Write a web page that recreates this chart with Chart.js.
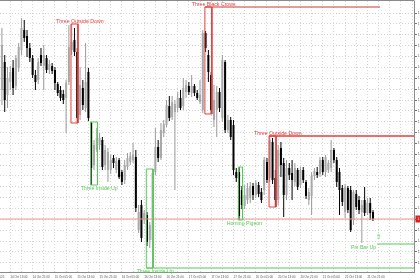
<!DOCTYPE html>
<html><head><meta charset="utf-8">
<script src="https://cdn.jsdelivr.net/npm/chart.js@4.4.1/dist/chart.umd.min.js"></script>
<style>html,body{margin:0;padding:0;background:#fff;overflow:hidden}canvas{display:block}</style>
</head><body>
<canvas id="c" width="420" height="280"></canvas>
<script>
// ---- Hourly candles, 14 Oct 10:00 .. 21 Oct 23:00 ----
const opens = [
1.1710,1.1738,1.1705,1.1718,1.1732,1.1714,1.1732,1.1750,1.1770,1.1764,
1.1752,1.1742,1.1725,1.1720,1.1745,1.1734,1.1742,1.1730,1.1734,1.1730,
1.1716,1.1710,1.1706,1.1702,1.1718,1.1750,1.1760,1.1748,1.1685,1.1712,
1.1692,1.1728,1.1677,1.1635,1.1650,1.1655,1.1660,1.1635,1.1630,1.1630,
1.1642,1.1630,1.1640,1.1628,1.1620,1.1633,1.1638,1.1640,1.1643,1.1570,
1.1595,1.1580,1.1585,1.1560,1.1560,1.1628,1.1653,1.1642,1.1667,1.1675,
1.1694,1.1683,1.1688,1.1692,1.1702,1.1694,1.1708,1.1714,1.1707,1.1714,
1.1707,1.1698,1.1690,1.1767,1.1745,1.1725,1.1680,1.1690,1.1708,1.1682,
1.1738,1.1670,1.1680,1.1675,1.1628,1.1628,1.1610,1.1594,1.1600,1.1602,
1.1614,1.1605,1.1615,1.1608,1.1610,1.1638,1.1622,1.1658,1.1622,1.1600,
1.1652,1.1637,1.1605,1.1632,1.1627,1.1618,1.1630,1.1615,1.1630,1.1618,
1.1600,1.1604,1.1624,1.1628,1.1626,1.1640,1.1628,1.1630,1.1632,1.1650,
1.1640,1.1628,1.1612,1.1588,1.1612,1.1610,1.1580,1.1606,1.1600,1.1588,
1.1600,1.1587,1.1597,1.1588];
const highs = [
1.1772,1.1745,1.1733,1.1734,1.1740,1.1745,1.1757,1.1782,1.1780,1.1770,
1.1757,1.1745,1.1730,1.1742,1.1752,1.1755,1.1745,1.1740,1.1737,1.1733,
1.1718,1.1714,1.1710,1.1720,1.1775,1.1776,1.1772,1.1752,1.1733,1.1720,
1.1757,1.1732,1.1678,1.1660,1.1672,1.1667,1.1663,1.1655,1.1652,1.1645,
1.1645,1.1643,1.1642,1.1630,1.1640,1.1647,1.1648,1.1657,1.1650,1.1595,
1.1600,1.1590,1.1588,1.1578,1.1631,1.1672,1.1660,1.1677,1.1680,1.1700,
1.1704,1.1704,1.1700,1.1708,1.1710,1.1722,1.1720,1.1718,1.1725,1.1716,
1.1710,1.1720,1.1770,1.1769,1.1750,1.1728,1.1715,1.1714,1.1712,1.1745,
1.1740,1.1685,1.1683,1.1680,1.1632,1.1633,1.1614,1.1615,1.1617,1.1618,
1.1617,1.1620,1.1618,1.1612,1.1643,1.1642,1.1664,1.1662,1.1630,1.1655,
1.1658,1.1642,1.1640,1.1637,1.1640,1.1637,1.1632,1.1633,1.1633,1.1620,
1.1612,1.1628,1.1632,1.1633,1.1643,1.1643,1.1645,1.1640,1.1660,1.1652,
1.1643,1.1632,1.1615,1.1616,1.1614,1.1614,1.1610,1.1610,1.1604,1.1600,
1.1613,1.1602,1.1602,1.1590];
const lows = [
1.1695,1.1688,1.1692,1.1710,1.1705,1.1710,1.1728,1.1745,1.1758,1.1743,
1.1738,1.1722,1.1710,1.1716,1.1734,1.1710,1.1727,1.1726,1.1726,1.1710,
1.1704,1.1699,1.1696,1.1667,1.1715,1.1745,1.1744,1.1677,1.1680,1.1690,
1.1688,1.1679,1.1615,1.1630,1.1648,1.1650,1.1630,1.1630,1.1618,1.1626,
1.1632,1.1627,1.1621,1.1615,1.1616,1.1630,1.1635,1.1637,1.1588,1.1567,
1.1558,1.1576,1.1554,1.1552,1.1532,1.1625,1.1638,1.1640,1.1663,1.1673,
1.1679,1.1680,1.1610,1.1688,1.1690,1.1690,1.1702,1.1705,1.1703,1.1704,
1.1700,1.1696,1.1687,1.1748,1.1718,1.1686,1.1673,1.1663,1.1688,1.1678,
1.1667,1.1667,1.1660,1.1625,1.1618,1.1580,1.1591,1.1591,1.1596,1.1597,
1.1600,1.1602,1.1603,1.1597,1.1605,1.1617,1.1618,1.1616,1.1593,1.1595,
1.1623,1.1583,1.1600,1.1620,1.1600,1.1614,1.1610,1.1612,1.1617,1.1601,
1.1595,1.1585,1.1620,1.1622,1.1623,1.1625,1.1623,1.1627,1.1628,1.1637,
1.1613,1.1585,1.1594,1.1582,1.1587,1.1568,1.1575,1.1590,1.1586,1.1557,
1.1584,1.1585,1.1580,1.1579];
const closes = [
1.1755,1.1700,1.1722,1.1728,1.1712,1.1742,1.1753,1.1772,1.1762,1.1752,
1.1742,1.1725,1.1718,1.1738,1.1737,1.1745,1.1730,1.1736,1.1729,1.1717,
1.1707,1.1702,1.1700,1.1717,1.1753,1.1758,1.1748,1.1682,1.1715,1.1695,
1.1718,1.1682,1.1632,1.1655,1.1662,1.1662,1.1633,1.1650,1.1648,1.1640,
1.1637,1.1639,1.1623,1.1618,1.1635,1.1642,1.1644,1.1645,1.1592,1.1588,
1.1562,1.1587,1.1558,1.1575,1.1627,1.1653,1.1642,1.1670,1.1676,1.1695,
1.1682,1.1698,1.1696,1.1702,1.1692,1.1712,1.1715,1.1708,1.1714,1.1707,
1.1702,1.1705,1.1767,1.1752,1.1728,1.1690,1.1700,1.1708,1.1692,1.1740,
1.1670,1.1680,1.1663,1.1630,1.1622,1.1584,1.1595,1.1605,1.1612,1.1614,
1.1605,1.1617,1.1606,1.1600,1.1640,1.1620,1.1660,1.1620,1.1600,1.1650,
1.1635,1.1605,1.1632,1.1625,1.1620,1.1632,1.1613,1.1630,1.1620,1.1604,
1.1608,1.1624,1.1629,1.1625,1.1640,1.1628,1.1643,1.1637,1.1650,1.1640,
1.1618,1.1610,1.1598,1.1613,1.1590,1.1570,1.1608,1.1593,1.1590,1.1595,
1.1587,1.1597,1.1587,1.1581];

// time axis labels, one every 8 candles starting 5 candles before the first visible one
const timeLabels = ['14 Oct 2025','14 Oct 13:00','14 Oct 21:00','15 Oct 05:00','15 Oct 13:00','15 Oct 21:00',
  '16 Oct 05:00','16 Oct 13:00','16 Oct 21:00','17 Oct 05:00','17 Oct 13:00','17 Oct 21:00',
  '20 Oct 05:00','20 Oct 13:00','20 Oct 21:00','21 Oct 05:00','21 Oct 13:00','21 Oct 21:00'];
const FIRST_LABEL_IDX = -5;

// price axis ticks
const priceTicks = [1.17868,1.17760,1.17651,1.17543,1.17434,1.17326,1.17217,1.17109,1.17000,1.16892,
  1.16783,1.16675,1.16566,1.16458,1.16349,1.16241,1.16132,1.16024,1.15915,1.15807,1.15698,1.15590,1.15481,1.15373];

// candlestick pattern annotations
const patternNames = ['Three Outside Down','Three Inside Up','Three Inside Up','Three Black Crows','Homing Pigeon','Three Outside Down'];
const patternStart = [25,32,52,73,85,96];
const patternEnd   = [27,34,54,75,86,98];
const patternHigh  = [1.1776,1.1678,1.1631,1.1793,1.1633,1.1664];
const patternLow   = [1.1677,1.1615,1.1532,1.1686,1.1580,1.1593];
const patternBull  = [false,true,true,false,true,false];

// horizontal levels drawn from the patterns
const levelPrice = [1.1793,1.1664,1.1532,1.1556];
const levelFrom  = [72.75,95.75,51.75,134.5];
const levelTo    = [135.5,null,null,null];
const levelBull  = [false,false,true,true];

const pinBarIndex = 129;
const pinBarLabel = 'Pin Bar Up';
const bidPrice = 1.1581;

const X_MIN = -0.69, X_MAX = 147.7, Y_MIN = 1.1528, Y_MAX = 1.1799;

const RED = '#e83c3c', RED_DARK = '#c83a32', GREEN = '#55cc55', BID = '#f29090';
const BULL_BODY = '#a8a8a8', BULL_WICK = '#9a9a9a', BEAR = '#000000';

const bull = opens.map((o,i)=>closes[i] >= o);
const wickData = opens.map((o,i)=>({x:i, y:[lows[i], highs[i]]}));
const bodyData = opens.map((o,i)=>({x:i, y:[opens[i], closes[i]]}));

const datasets = [];
patternNames.forEach((n,i)=>{
  const a = patternStart[i]-0.25, b = patternEnd[i]+0.25, hi = patternHigh[i], lo = patternLow[i];
  datasets.push({type:'line', label:n, data:[{x:a,y:hi},{x:b,y:hi},{x:b,y:lo},{x:a,y:lo},{x:a,y:hi}],
    borderColor: patternBull[i] ? GREEN : RED, borderWidth:1, pointRadius:0, fill:false, tension:0, order:0});
});
levelPrice.forEach((p,i)=>{
  const to = levelTo[i] === null ? X_MAX : levelTo[i];
  datasets.push({type:'line', label:'level'+i, data:[{x:levelFrom[i],y:p},{x:to,y:p}],
    borderColor: levelBull[i] ? GREEN : (i===0 ? RED_DARK : RED), borderWidth: i===1 ? 1.4 : 1.2,
    pointRadius:0, fill:false, order:0});
});
datasets.push({type:'line', label:'bid', data:[{x:X_MIN,y:bidPrice},{x:X_MAX,y:bidPrice}],
  borderColor:BID, borderWidth:1, pointRadius:0, fill:false, order:0});
datasets.push({type:'bar', label:'body', data:bodyData, backgroundColor: bull.map(b=>b?BULL_BODY:BEAR),
  barThickness:2, grouped:false, inflateAmount:0, borderWidth:0, minBarLength:1, order:1});
datasets.push({type:'bar', label:'wick', data:wickData, backgroundColor: bull.map(b=>b?BULL_WICK:BEAR),
  barThickness:1, grouped:false, inflateAmount:0, borderWidth:0, order:2});

const FONT = '"Liberation Sans", Arial, sans-serif';
const annot = {
  id:'annot',
  afterDatasetsDraw(chart){
    const {ctx, scales:{x, y}} = chart;
    ctx.save();
    ctx.font = '5.2px ' + FONT;
    ctx.textAlign = 'center'; ctx.textBaseline = 'middle';
    patternNames.forEach((n,i)=>{
      const px = x.getPixelForValue(patternEnd[i] + 0.9);
      const py = patternBull[i] ? y.getPixelForValue(patternLow[i]) + 3.2 : y.getPixelForValue(patternHigh[i]) - 2.8;
      ctx.fillStyle = patternBull[i] ? GREEN : RED;
      ctx.fillText(n, px, py);
    });
    ctx.fillStyle = GREEN;
    ctx.fillText(pinBarLabel, x.getPixelForValue(pinBarIndex + 0.6), y.getPixelForValue(levelPrice[3]) + 3.6);
    ctx.font = '7px "DejaVu Sans", sans-serif';
    ctx.fillText('\u21E7', x.getPixelForValue(levelFrom[3] + 0.5), y.getPixelForValue(levelPrice[3]) - 6.5);
    ctx.restore();
  },
  afterDraw(chart){
    const {ctx, chartArea, scales:{y}} = chart;
    ctx.save();
    ctx.strokeStyle = '#8a8a8a'; ctx.lineWidth = 1;
    ctx.beginPath(); ctx.moveTo(0, 0.5); ctx.lineTo(chartArea.right + 0.5, 0.5); ctx.stroke();
    const py = y.getPixelForValue(bidPrice);
    ctx.fillStyle = '#e01e1e';
    ctx.fillRect(chartArea.right + 1.5, py - 3.5, 6, 7);
    ctx.fillStyle = '#fff';
    ctx.font = '3px ' + FONT; ctx.textBaseline = 'middle'; ctx.textAlign = 'left';
    ctx.fillText(bidPrice.toFixed(5), chartArea.right + 3.5, py);
    ctx.restore();
  }
};

new Chart(document.getElementById('c'), {
  type:'bar',
  data:{datasets},
  options:{
    responsive:false, animation:false, devicePixelRatio:1, events:[],
    layout:{padding:{top:1,left:0,right:0,bottom:0}},
    plugins:{legend:{display:false}, tooltip:{enabled:false}, title:{display:false}},
    scales:{
      x:{type:'linear', min:X_MIN, max:X_MAX, offset:false, bounds:'data',
        afterBuildTicks: ax => { const t=[]; for(let v=FIRST_LABEL_IDX; v<=X_MAX; v+=4) t.push({value:v}); ax.ticks=t; },
        afterFit: ax => { ax.height = 8; ax.paddingLeft = 0; ax.paddingRight = 0; },
        grid:{offset:false, color:'#d4d4d4', lineWidth:1, drawTicks:false},
        border:{display:true, color:'#8a8a8a', width:1, dash:[1,2]},
        ticks:{autoSkip:false, maxRotation:0, minRotation:0, align:'start', padding:3, color:'#555',
          font:{size:3, family:FONT},
          callback: v => { const k=(v-FIRST_LABEL_IDX)/8; return Number.isInteger(k) ? (timeLabels[k]||'') : ''; }}
      },
      y:{type:'linear', position:'right', min:Y_MIN, max:Y_MAX, beginAtZero:false, bounds:'data',
        afterBuildTicks: ax => { ax.ticks = priceTicks.map(v=>({value:v})); },
        afterFit: ax => { ax.width = 6; ax.paddingTop = 0; ax.paddingBottom = 0; },
        grid:{color:'#d4d4d4', lineWidth:1, drawTicks:true, tickLength:3, tickColor:'#777', tickWidth:1, tickBorderDash:[]},
        border:{display:true, color:'#8a8a8a', width:1, dash:[1,2]},
        ticks:{padding:1, color:'#444', font:{size:3, family:FONT}, callback: v => Number(v).toFixed(5)}
      }
    }
  },
  plugins:[annot]
});
</script>
</body></html>
